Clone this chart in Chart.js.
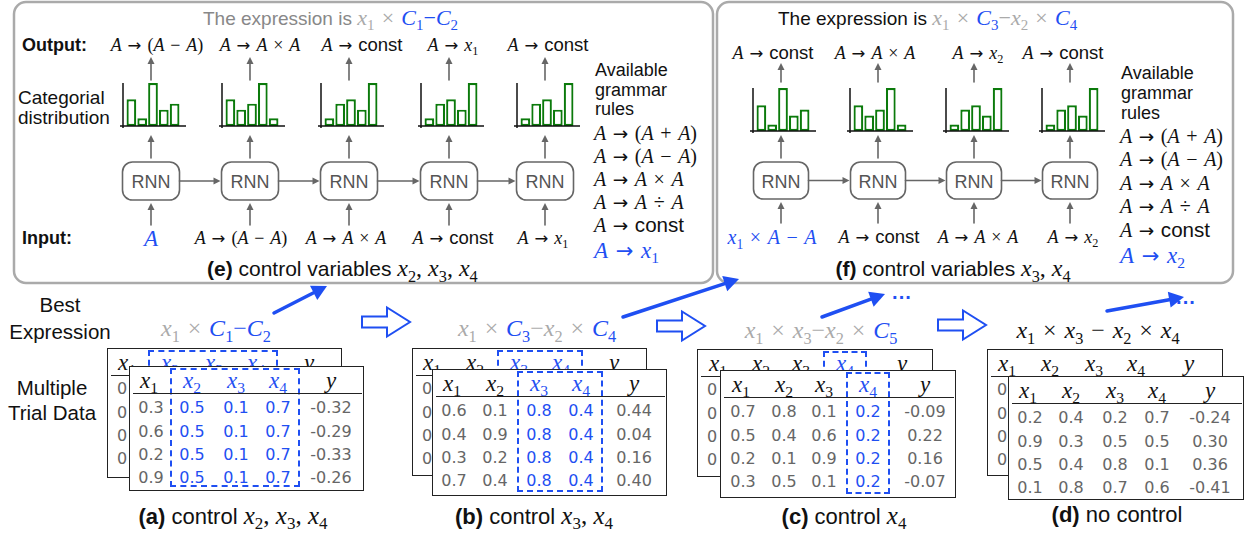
<!DOCTYPE html>
<html>
<head>
<meta charset="utf-8">
<script src="https://cdn.jsdelivr.net/npm/chart.js@4.4.1/dist/chart.umd.min.js"></script>
<style>
  body { margin: 0; background: #fff; }
  #wrap { position: relative; width: 1248px; height: 533px; overflow: hidden; font-family: 'Liberation Sans', Arial, sans-serif; color: #111; }
  .t { position: absolute; white-space: nowrap; line-height: 1; }
  .m { font-family: 'Liberation Serif', 'DejaVu Serif', serif; }
  i { font-family: 'Liberation Serif', 'DejaVu Serif', serif; font-style: italic; }
  sub { font-size: 0.68em; vertical-align: -0.35em; line-height: 0; font-style: normal; font-family: 'Liberation Serif', serif; }
  .sf { font-family: 'Liberation Sans', Arial, sans-serif; font-size: 1.03em; font-style: normal; }
  .rel { display: inline-block; width: 1em; margin: 0 0.278em; text-align: center; font-family: 'DejaVu Sans', sans-serif; font-size: 0.92em; font-style: normal; }
  .op { display: inline-block; width: 0.778em; margin: 0 0.222em; text-align: center; font-style: normal; }
  .num { font-family: 'DejaVu Sans', sans-serif; }
  canvas { position: absolute; }
</style>
</head>
<body>
<div id="wrap"></div>
<script>
// ---- data ----
const histCats = ['r1', 'r2', 'r3', 'r4', 'r5'];
const eHist = [
  [0.62, 0.18, 1.0, 0.38, 0.52],
  [0.62, 0.38, 0.52, 1.0, 0.18],
  [0.18, 0.52, 0.62, 0.38, 1.0],
  [0.18, 0.52, 0.62, 0.38, 1.0],
  [0.18, 0.52, 0.62, 0.38, 1.0]
];
const fHist = [
  [0.6, 0.15, 1.0, 0.36, 0.5],
  [0.6, 0.36, 0.5, 1.0, 0.15],
  [0.15, 0.5, 0.6, 0.36, 1.0],
  [0.15, 0.5, 0.6, 0.36, 1.0]
];
const eOutputs = ['A → (A − A)', 'A → A × A', 'A → const', 'A → x1', 'A → const'];
const eInputs = ['A', 'A → (A − A)', 'A → A × A', 'A → const', 'A → x1'];
const fOutputs = ['A → const', 'A → A × A', 'A → x2', 'A → const'];
const fInputs = ['x1 × A − A', 'A → const', 'A → A × A', 'A → x2'];
const grammarRules = ['A → (A + A)', 'A → (A − A)', 'A → A × A', 'A → A ÷ A', 'A → const'];
const eChosen = 'A → x1';
const fChosen = 'A → x2';

const tableHeader = ['x1', 'x2', 'x3', 'x4', 'y'];
const tableA = [[0.3, 0.5, 0.1, 0.7, -0.32], [0.6, 0.5, 0.1, 0.7, -0.29], [0.2, 0.5, 0.1, 0.7, -0.33], [0.9, 0.5, 0.1, 0.7, -0.26]];
const tableB = [[0.6, 0.1, 0.8, 0.4, 0.44], [0.4, 0.9, 0.8, 0.4, 0.04], [0.3, 0.2, 0.8, 0.4, 0.16], [0.7, 0.4, 0.8, 0.4, 0.40]];
const tableC = [[0.7, 0.8, 0.1, 0.2, -0.09], [0.5, 0.4, 0.6, 0.2, 0.22], [0.2, 0.1, 0.9, 0.2, 0.16], [0.3, 0.5, 0.1, 0.2, -0.07]];
const tableD = [[0.2, 0.4, 0.2, 0.7, -0.24], [0.9, 0.3, 0.5, 0.5, 0.30], [0.5, 0.4, 0.8, 0.1, 0.36], [0.1, 0.8, 0.7, 0.6, -0.41]];
const controlA = [1, 2, 3];
const controlB = [2, 3];
const controlC = [3];
const controlD = [];

// ---- layout ----
const BLUE = '#1f4ff2';
const GREEN = '#0b7a0b';
const eCols = [151, 250, 349, 449, 545];
const fCols = [781, 878, 974, 1070];
const eOutX = [157, 260, 362, 453, 548];
const eInX = [151, 241, 346, 453, 543];
const fOutX = [773, 875, 978, 1063];
const fInX = [772, 879, 978, 1073];

const W = document.getElementById('wrap');
const NS = 'http://www.w3.org/2000/svg';
const svg = document.createElementNS(NS, 'svg');
svg.setAttribute('width', 1248);
svg.setAttribute('height', 533);
svg.style.position = 'absolute';
svg.style.left = '0';
svg.style.top = '0';
W.appendChild(svg);

function el(tag, attrs) {
  const e = document.createElementNS(NS, tag);
  for (const k in attrs) e.setAttribute(k, attrs[k]);
  svg.appendChild(e);
  return e;
}

// math-ish text: italic letters, digit subscripts, sans "const", TeX-like spacing
function mx(s) {
  return s.replace(/ → /g, '\u0001').replace(/ ([−+×÷]) /g, '\u0002$1\u0003')
    .replace(/([AxCy])(\d?)/g, (m, a, d) => '<i>' + a + '</i>' + (d ? '<sub>' + d + '</sub>' : ''))
    .replace(/const/g, '<span class="sf">const</span>')
    .replace(/\u0001/g, '<span class="rel">→</span>')
    .replace(/\u0002/g, '<span class="op">').replace(/\u0003/g, '</span>');
}

function txt(html, x, y, size, opt = {}) {
  const d = document.createElement('div');
  d.className = 't' + (opt.cls ? ' ' + opt.cls : '');
  d.innerHTML = html;
  d.style.left = x + 'px';
  d.style.top = y + 'px';
  d.style.fontSize = size + 'px';
  if (opt.color) d.style.color = opt.color;
  if (opt.bold) d.style.fontWeight = 'bold';
  if (opt.lh) d.style.lineHeight = opt.lh + 'px';
  d.style.transform = opt.left ? 'translate(0,-50%)' : 'translate(-50%,-50%)';
  if (opt.center) d.style.textAlign = 'center';
  (opt.parent || W).appendChild(d);
  return d;
}

function gArrow(x1, y1, x2, y2, color = '#666', lw = 1.6, L = 7, hw = 3.5) {
  const a = Math.atan2(y2 - y1, x2 - x1);
  const bx = x2 - L * Math.cos(a), by = y2 - L * Math.sin(a);
  el('line', { x1, y1, x2: bx, y2: by, stroke: color, 'stroke-width': lw, 'stroke-linecap': 'round' });
  el('polygon', {
    points: `${x2},${y2} ${bx + hw * Math.sin(a)},${by - hw * Math.cos(a)} ${bx - hw * Math.sin(a)},${by + hw * Math.cos(a)}`,
    fill: color
  });
}

function hollow(x0, yc) {
  el('polygon', {
    points: `${x0},${yc - 5.5} ${x0 + 25},${yc - 5.5} ${x0 + 25},${yc - 14.5} ${x0 + 48},${yc} ${x0 + 25},${yc + 14.5} ${x0 + 25},${yc + 5.5} ${x0},${yc + 5.5}`,
    fill: '#fff', stroke: BLUE, 'stroke-width': 2
  });
}

// panels
el('rect', { x: 14, y: 2, width: 699, height: 281, rx: 12, fill: '#fff', stroke: '#aaa', 'stroke-width': 2.5 });
el('rect', { x: 717, y: 2, width: 516, height: 281, rx: 12, fill: '#fff', stroke: '#aaa', 'stroke-width': 2.5 });

// RNN chains
function chain(cols, w, top, bot, outY, inY) {
  cols.forEach((cx, i) => {
    el('rect', { x: cx - w / 2, y: top, width: w, height: bot - top, rx: 10, fill: '#fff', stroke: '#666', 'stroke-width': 1.6 });
    txt('RNN', cx, (top + bot) / 2 + 1, 18, { color: '#555' });
    gArrow(cx, inY[0], cx, inY[1]);
    gArrow(cx, 158, cx, 135);
    gArrow(cx, outY[0], cx, outY[1]);
    if (i < cols.length - 1) gArrow(cx + w / 2, (top + bot) / 2, cols[i + 1] - w / 2 - 1, (top + bot) / 2);
  });
}
chain(eCols, 57, 162, 200, [80, 57], [225, 203]);
chain(fCols, 55, 162, 199, [82, 63], [223, 202]);

// hollow arrows between stages
hollow(362, 322);
hollow(657, 326);
hollow(938, 325);

// hand-drawn blue arrows
gArrow(274, 313, 327, 286, BLUE, 3.5, 15, 8);
gArrow(623, 317, 739, 279, BLUE, 3.5, 15, 8);
gArrow(822, 317, 885, 294, BLUE, 3.5, 15, 8);
gArrow(1107, 311, 1184, 297, BLUE, 3.5, 15, 8);
txt('···', 902, 297, 20, { color: BLUE, bold: true });
txt('···', 1186, 302, 20, { color: BLUE, bold: true });

// ---- histograms (Chart.js) ----
const axisLines = {
  id: 'axisLines',
  afterDraw(c) {
    const a = c.chartArea, ctx = c.ctx;
    ctx.save();
    ctx.strokeStyle = '#111';
    ctx.lineWidth = 1.5;
    ctx.beginPath();
    ctx.moveTo(a.left - 3, a.top);
    ctx.lineTo(a.left - 3, a.bottom + 2);
    ctx.moveTo(a.left - 6, a.bottom);
    ctx.lineTo(a.right + 6, a.bottom);
    ctx.stroke();
    ctx.restore();
  }
};

function hist(vals, ax, top, bottom) {
  const c = document.createElement('canvas');
  const padL = 7, padR = 8, padT = 3, padB = 5;
  const w = padL + 54 + padR, h = padT + (bottom - top) + padB;
  c.width = w; c.height = h;
  c.style.left = (ax - 4) + 'px';
  c.style.top = (top - padT) + 'px';
  c.style.width = w + 'px';
  c.style.height = h + 'px';
  W.appendChild(c);
  new Chart(c.getContext('2d'), {
    type: 'bar',
    data: {
      labels: histCats,
      datasets: [{
        data: vals,
        backgroundColor: '#fff',
        borderColor: GREEN,
        borderWidth: 2.2,
        borderSkipped: false,
        barPercentage: 0.9,
        categoryPercentage: 1,
        clip: false
      }]
    },
    options: {
      responsive: false,
      animation: false,
      devicePixelRatio: 1,
      layout: { padding: { left: padL, right: padR, top: padT, bottom: padB } },
      plugins: { legend: { display: false }, tooltip: { enabled: false } },
      scales: {
        x: { display: false },
        y: { display: false, min: 0, max: 1 }
      }
    },
    plugins: [axisLines]
  });
}
eHist.forEach((v, i) => hist(v, eCols[i] - 28, 83, 126));
fHist.forEach((v, i) => hist(v, fCols[i] - 28, 88, 131));

// ---- panel (e) text ----
txt('<span style="color:#888">The expression is </span><span class="m" style="font-size:22px"><span style="color:#aaa">' + mx('x1 × ') +
    '</span><span style="color:' + BLUE + '">' + mx('C1−C2') + '</span></span>', 203, 18, 19, { left: true });
txt('Output:', 22, 45, 18, { bold: true, left: true });
txt('Input:', 22, 238, 18, { bold: true, left: true });
txt('Categorial<br>distribution', 18, 108, 19, { left: true, lh: 20 });
eOutputs.forEach((s, i) => txt(mx(s), eOutX[i], 45, 18, { cls: 'm' }));
eInputs.forEach((s, i) => {
  if (i === 0) txt(mx(s), eInX[i], 238, 23, { cls: 'm', color: BLUE });
  else txt(mx(s), eInX[i], 238, 18, { cls: 'm' });
});
txt('<b>(e)</b> control variables <span class="m" style="font-size:24px">' + mx('x2, x3, x4') + '</span>', 207, 268, 21, { left: true });
txt('Available<br>grammar<br>rules', 595, 90, 18, { left: true, lh: 19.5 });
const eRuleY = [133, 156, 179, 202, 225];
grammarRules.forEach((s, i) => txt(mx(s), 594, eRuleY[i], 20, { cls: 'm', left: true }));
txt(mx(eChosen), 594, 250, 23, { cls: 'm', left: true, color: BLUE });

// ---- panel (f) text ----
txt('The expression is <span class="m" style="font-size:22px"><span style="color:#aaa">' + mx('x1 × ') + '</span><span style="color:' + BLUE + '">' + mx('C3') +
    '</span><span style="color:#aaa">' + mx('−x2 × ') + '</span><span style="color:' + BLUE + '">' + mx('C4') + '</span></span>', 778, 18, 19, { left: true });
fOutputs.forEach((s, i) => txt(mx(s), fOutX[i], 53, 18, { cls: 'm' }));
fInputs.forEach((s, i) => {
  if (i === 0) txt(mx(s), fInX[i], 237, 20, { cls: 'm', color: BLUE });
  else txt(mx(s), fInX[i], 237, 18, { cls: 'm' });
});
txt('<b>(f)</b> control variables <span class="m" style="font-size:24px">' + mx('x3, x4') + '</span>', 953, 268, 21);
txt('Available<br>grammar<br>rules', 1121, 93, 18, { left: true, lh: 20 });
const fRuleY = [136, 159, 183, 206, 230];
grammarRules.forEach((s, i) => txt(mx(s), 1120, fRuleY[i], 20, { cls: 'm', left: true }));
txt(mx(fChosen), 1120, 255, 23, { cls: 'm', left: true, color: BLUE });

// ---- bottom row ----
txt('Best<br>Expression', 60, 318, 20.5, { lh: 27, center: true });
txt('Multiple<br>Trial Data', 52, 400, 20.5, { lh: 25, center: true });

function expr(parts, x, y) {
  const html = parts.map(p => '<span style="color:' + p[1] + '">' + mx(p[0]) + '</span>').join('');
  txt(html, x, y, 24, { cls: 'm' });
}
expr([['x1 × ', '#aaa'], ['C1−C2', BLUE]], 216, 328);
expr([['x1 × ', '#aaa'], ['C3', BLUE], ['−x2 × ', '#aaa'], ['C4', BLUE]], 537, 328);
expr([['x1 × x3−x2 × ', '#aaa'], ['C5', BLUE]], 821, 330);
expr([['x1 × x3 − x2 × x4', '#111']], 1098, 330);

function fmt(v, j) { return j === 4 ? v.toFixed(2) : v.toFixed(1); }

// back = the trial card lying underneath; only its header and first digits show
function table(x, y, w, h, rows, ctrl, cols, back) {
  const t = document.createElement('div');
  t.style.cssText = `position:absolute;left:${x}px;top:${y}px;width:${w}px;height:${h}px;border:1.5px solid #222;background:#fff;box-sizing:border-box;`;
  W.appendChild(t);
  if (ctrl.length) {
    const d = document.createElement('div');
    const l = cols[ctrl[0]] - 22, r = cols[ctrl[ctrl.length - 1]] + 22;
    d.style.cssText = `position:absolute;left:${l}px;top:1px;width:${r - l}px;height:${h - 6}px;border:2px dashed ${BLUE};box-sizing:border-box;`;
    t.appendChild(d);
  }
  const ln = document.createElement('div');
  ln.style.cssText = 'position:absolute;left:3px;right:1px;top:26px;border-top:1.5px solid #222;';
  t.appendChild(ln);
  tableHeader.forEach((s, j) => txt(mx(s), cols[j], 13, 23, { cls: 'm', parent: t, color: ctrl.includes(j) ? BLUE : '#111' }));
  const rowY = [41, 65, 88, 111];
  rows.forEach((r, i) => {
    if (back) { txt('0', 9, rowY[i] - 1, 16, { cls: 'num', parent: t, color: '#666', left: true }); return; }
    r.forEach((v, j) => {
      txt(fmt(v, j), cols[j] + (j === 0 ? 2 : 0), rowY[i], 16, { cls: 'num', parent: t, color: ctrl.includes(j) ? BLUE : '#666' });
    });
  });
}
const colsStd = [19, 62, 106, 148, 201];
const colsC = [20, 63, 103, 147, 204];
table(107, 348, 235, 130, tableA, controlA, colsStd, true);
table(129, 366, 235, 125, tableA, controlA, colsStd, false);
table(412, 348, 235, 128, tableB, controlB, colsStd, true);
table(432, 369, 235, 127, tableB, controlB, colsStd, false);
table(697, 349, 236, 128, tableC, controlC, colsC, true);
table(720, 370, 236, 128, tableC, controlC, colsC, false);
table(987, 349, 236, 127, tableD, controlD, colsStd, true);
table(1008, 376, 236, 124, tableD, controlD, colsStd, false);

txt('<b>(a)</b> control <span class="m" style="font-size:25px">' + mx('x2, x3, x4') + '</span>', 233, 515, 22);
txt('<b>(b)</b> control <span class="m" style="font-size:25px">' + mx('x3, x4') + '</span>', 534, 515, 22);
txt('<b>(c)</b> control <span class="m" style="font-size:25px">' + mx('x4') + '</span>', 844, 515, 22);
txt('<b>(d)</b> no control', 1117, 515, 22);
</script>
</body>
</html>
